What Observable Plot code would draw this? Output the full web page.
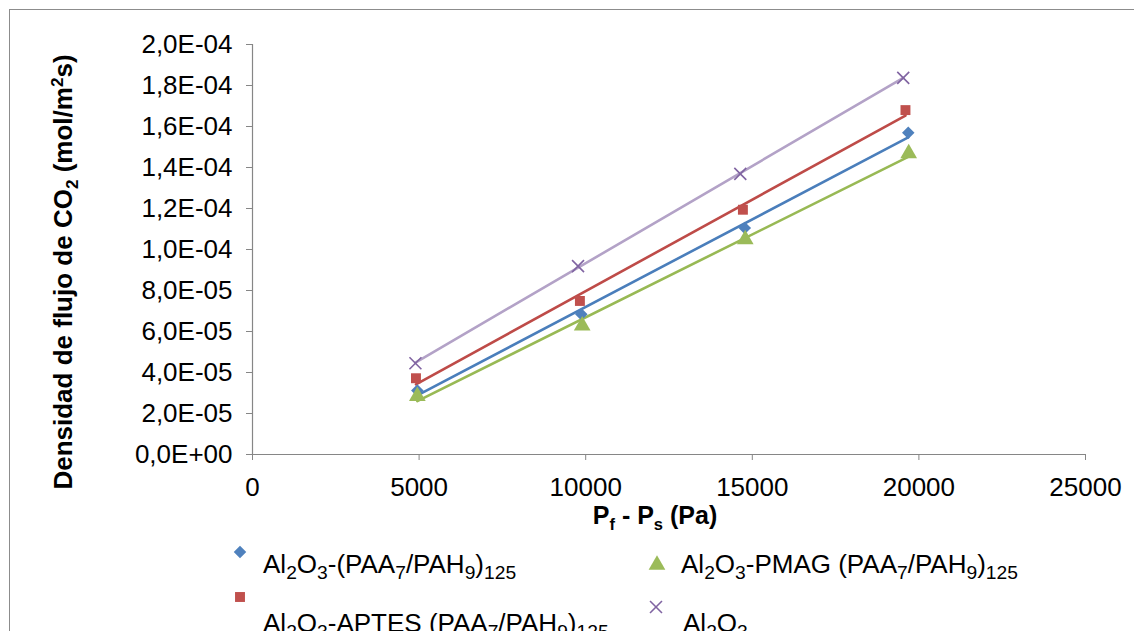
<!DOCTYPE html>
<html>
<head>
<meta charset="utf-8">
<script src="https://cdn.jsdelivr.net/npm/d3@7"></script>
<script src="https://cdn.jsdelivr.net/npm/@observablehq/plot@0.6"></script>
<style>
  html, body { margin: 0; padding: 0; background: #fff; width: 1134px; height: 631px; overflow: hidden; }
  #frame { position: absolute; left: 9px; top: 9px; width: 1300px; height: 800px; border: 1.5px solid #8c8c8c; box-sizing: border-box; }
  #chart { position: absolute; left: 0; top: 0; }
  #overlay { position: absolute; left: 0; top: 0; }
</style>
</head>
<body>
<div id="frame"></div>
<div id="chart"></div>
<svg id="overlay" width="1134" height="631"></svg>
<script>
// ---- data ----
const seriesNames = [
  "Al2O3-(PAA7/PAH9)125",
  "Al2O3-APTES (PAA7/PAH9)125",
  "Al2O3-PMAG (PAA7/PAH9)125",
  "Al2O3"
];
const xBlue   = [4947, 9868, 14774, 19680];
const yBlue   = [3.12e-5, 6.84e-5, 1.105e-4, 1.57e-4];
const xRed    = [4906, 9826, 14718, 19597];
const yRed    = [3.72e-5, 7.49e-5, 1.194e-4, 1.68e-4];
const xGreen  = [4947, 9895, 14788, 19694];
const yGreen  = [2.85e-5, 6.28e-5, 1.049e-4, 1.469e-4];
const xPurple = [4890, 9770, 14640, 19530];
const yPurple = [4.45e-5, 9.19e-5, 1.369e-4, 1.837e-4];

const xTicks = [0, 5000, 10000, 15000, 20000, 25000];
const yTicks = [0, 2e-5, 4e-5, 6e-5, 8e-5, 1e-4, 1.2e-4, 1.4e-4, 1.6e-4, 1.8e-4, 2e-4];

const lineColors   = ["#4A7EBB", "#BE4B48", "#98B954", "#B3A2C7"];
const markerColors = ["#4F81BD", "#C0504D", "#9BBB59", "#8064A2"];

// square-ish diamond (a square turned 45°), as Excel draws it
const diamondSym = {
  draw(ctx, size) {
    const h = Math.sqrt(size / 2);
    ctx.moveTo(0, -h); ctx.lineTo(h, 0); ctx.lineTo(0, h); ctx.lineTo(-h, 0); ctx.closePath();
  }
};
const symbols = [diamondSym, d3.symbolSquare, d3.symbolTriangle, d3.symbolTimes];
const symbolSizes = [5.0, 5.6, 6.2, 5.5];

// ---- build table ----
const xs = [xBlue, xRed, xGreen, xPurple];
const ys = [yBlue, yRed, yGreen, yPurple];
const data = [];
seriesNames.forEach((s, i) => xs[i].forEach((x, j) => data.push({series: s, k: i, x, y: ys[i][j]})));

function fmtY(d) {
  if (d === 0) return "0,0E+00";
  const [m, e] = d.toExponential(1).split("e");
  const n = +e;
  return m.replace(".", ",") + "E" + (n < 0 ? "-" : "+") + String(Math.abs(n)).padStart(2, "0");
}

const FONT = "'Liberation Sans', Arial, sans-serif";

const dotMarks = [0, 1, 2].map(k => Plot.dot(data.filter(d => d.k === k), {
  x: "x", y: "y", symbol: symbols[k], fill: markerColors[k], r: symbolSizes[k]
}));

const chart = Plot.plot({
  width: 1134,
  height: 540,
  marginLeft: 252,
  marginRight: 49,
  marginTop: 44,
  marginBottom: 86,
  style: {fontFamily: FONT, fontSize: "26px", background: "transparent", color: "black", overflow: "visible"},
  x: {domain: [0, 25000]},
  y: {domain: [0, 2e-4]},
  color: {domain: seriesNames, range: lineColors},
  marks: [
    Plot.axisY({ticks: yTicks, tickFormat: fmtY, tickSize: 6, tickPadding: 14, stroke: "#868686", fill: "black", label: null}),
    Plot.axisX({ticks: xTicks, tickFormat: d3.format("d"), tickSize: 6, tickPadding: 17, stroke: "#868686", fill: "black", label: null}),
    Plot.ruleX([0], {stroke: "#868686", strokeWidth: 1.2}),
    Plot.ruleY([0], {stroke: "#868686", strokeWidth: 1.2}),
    Plot.linearRegressionY(data, {x: "x", y: "y", stroke: "series", strokeWidth: 2.6, ci: 0}),
    ...dotMarks,
    Plot.dot(data.filter(d => d.k === 3), {x: "x", y: "y", symbol: "times", stroke: markerColors[3], strokeWidth: 1.6, r: symbolSizes[3]})
  ]
});
document.getElementById("chart").appendChild(chart);

// ---- titles & legend (rich text with sub/superscripts) ----
const ov = d3.select("#overlay");
function rich(g, parts, size, weight, subScale) {
  const sc = subScale || 0.66;
  const t = g.append("text").attr("font-family", FONT).attr("font-size", size).attr("font-weight", weight || "normal").attr("fill", "black");
  let shift = 0;
  parts.forEach(([txt, kind]) => {
    const target = kind === "sub" ? size * 0.24 : kind === "sup" ? -size * 0.36 : 0;
    t.append("tspan").attr("dy", target - shift).attr("font-size", kind ? size * sc : size).text(txt);
    shift = target;
  });
  return t;
}

// y title
rich(ov.append("g").attr("transform", "translate(72,272) rotate(-90)"),
  [["Densidad de flujo de CO"], ["2", "sub"], [" (mol/m"], ["2", "sup"], ["s)"]], 26, "bold")
  .attr("text-anchor", "middle");

// x title
rich(ov.append("g").attr("transform", "translate(655,524)"),
  [["P"], ["f", "sub"], [" - P"], ["s", "sub"], [" (Pa)"]], 25, "bold")
  .attr("text-anchor", "middle");

// legend
const legendItems = [
  {i: 0, mx: 240, my: 552, tx: 263, ty: 573, parts: [["Al"], ["2", "sub"], ["O"], ["3", "sub"], ["-(PAA"], ["7", "sub"], ["/PAH"], ["9", "sub"], [")"], ["125", "sub"]]},
  {i: 2, mx: 657, my: 565, tx: 681, ty: 573, parts: [["Al"], ["2", "sub"], ["O"], ["3", "sub"], ["-PMAG (PAA"], ["7", "sub"], ["/PAH"], ["9", "sub"], [")"], ["125", "sub"]]},
  {i: 1, mx: 240, my: 597, tx: 263, ty: 632, parts: [["Al"], ["2", "sub"], ["O"], ["3", "sub"], ["-APTES (PAA"], ["7", "sub"], ["/PAH"], ["9", "sub"], [")"], ["125", "sub"]]},
  {i: 3, mx: 656, my: 607, tx: 683, ty: 632, parts: [["Al"], ["2", "sub"], ["O"], ["3", "sub"]]}
];
legendItems.forEach(it => {
  const r = symbolSizes[it.i];
  const p = ov.append("path")
    .attr("transform", `translate(${it.mx},${it.my})`)
    .attr("d", d3.symbol(symbols[it.i], Math.PI * r * r)());
  if (it.i === 3) p.attr("fill", "none").attr("stroke", markerColors[it.i]).attr("stroke-width", 1.6);
  else p.attr("fill", markerColors[it.i]);
  rich(ov.append("g").attr("transform", `translate(${it.tx},${it.ty})`), it.parts, 26, "normal", 0.74);
});
</script>
</body>
</html>
